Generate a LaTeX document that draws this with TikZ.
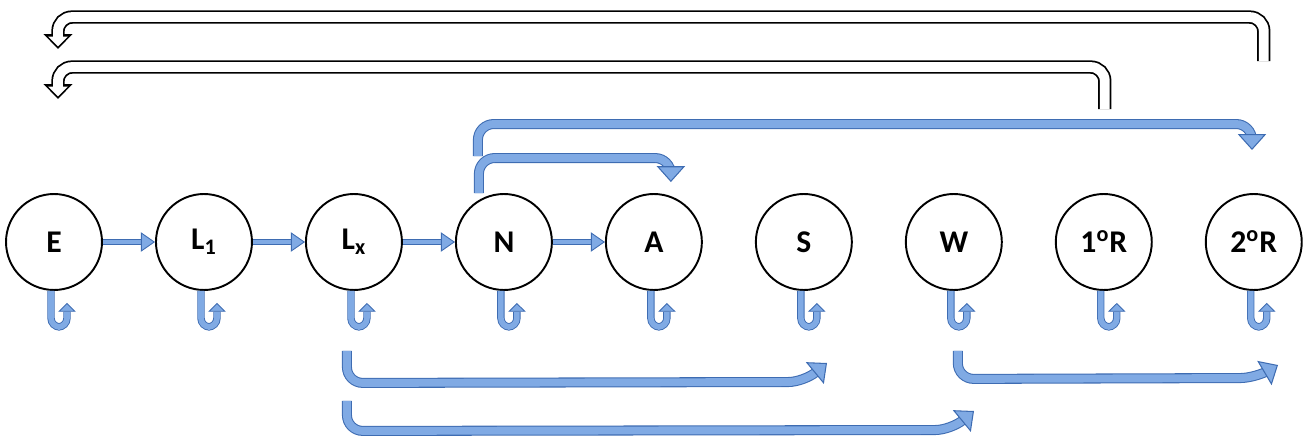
\documentclass[tikz,border=0pt]{standalone}
\usepackage{fontspec}
\setmainfont{Carlito}
\usetikzlibrary{arrows.meta}

\definecolor{bluefill}{RGB}{128,170,228}
\definecolor{blueedge}{RGB}{62,108,178}

\begin{document}
\begin{tikzpicture}[x=0.02cm, y=-0.02cm, node distance=3cm,
    stage/.style={circle, draw, line width=1.1pt, minimum size=1.92cm, inner sep=0pt,
                  font=\fontsize{18}{20}\selectfont\bfseries},
    move/.style={draw=blueedge, double=bluefill, line width=0.5pt, double distance=2.6pt,
                 -{Triangle[length=8pt, width=11pt, fill=bluefill]}},
    stay/.style={draw=blueedge, double=bluefill, line width=0.5pt, double distance=3.2pt,
                 rounded corners=5pt, -{Triangle[length=5pt, width=10pt, fill=bluefill]}},
    flow/.style={draw=blueedge, double=bluefill, line width=0.6pt, double distance=4.5pt,
                 rounded corners=9pt, -{Triangle[length=9pt, width=16pt, fill=bluefill]}},
    backflow/.style={draw=white, line width=5.6pt, rounded corners=8pt,
                     -{Triangle[length=5.6pt, width=11pt]}, shorten >=1.5pt,
                     preaction={draw=black, line width=7.6pt, shorten >=0pt,
                                -{Triangle[length=8.5pt, width=16pt]}}}]

    \useasboundingbox (0,0) rectangle (1309,442);

    \node [stage] (E) at (54,242) {E};
    \node [stage] (L1) [right of=E] {L\textsubscript{1}};
    \node [stage] (Lx) [right of=L1] {L\textsubscript{x}};
    \node [stage] (N) [right of=Lx] {N};
    \node [stage] (A) [right of=N] {A};
    \node [stage] (S) [right of=A] {S};
    \node [stage] (W) [right of=S] {W};
    \node [stage] (R1) [right of=W] {1\textsuperscript{o}R};
    \node [stage] (R2) [right of=R1] {2\textsuperscript{o}R};

    \draw [move] (E) -- (L1);
    \draw [move] (L1) -- (Lx);
    \draw [move] (Lx) -- (N);
    \draw [move] (N) -- (A);

    % staying in the same stage
    \foreach \n in {E,L1,Lx,N,A,S,W,R1,R2}
        \draw [stay] ([xshift=-0.06cm]\n.south) -- ++(0,36) -- ++(16,0) -- ++(0,-24);

    % back to eggs
    \coordinate (eggs1) at (58,49);
    \coordinate (eggs2) at (58,99);
    \draw [backflow] ([xshift=0.2cm, yshift=2.64cm]R2.north) -- ++(0,-44) -| (eggs1);
    \draw [backflow] ([xshift=0.02cm, yshift=1.68cm]R1.north) -- ++(0,-42) -| (eggs2);

    % above the stages
    \coordinate (toR2) at (1252,150);
    \draw [flow] ([xshift=-0.52cm, yshift=0.74cm]N.north) -- ++(0,-32) -| (toR2);
    \draw [flow] ([xshift=-0.5cm]N.north) -- ++(0,-35) -| ([xshift=0.34cm, yshift=0.22cm]A.north);

    % below the stages
    \coordinate (toS) at (827,363);
    \coordinate (toW) at (974,411);
    \coordinate (toR2b) at (1278,365);
    \draw [flow] ([xshift=-0.14cm, yshift=-1.2cm]Lx.south) -- ++(0,32) -- (804,382) -- (toS);
    \draw [flow] ([xshift=-0.14cm, yshift=-2.2cm]Lx.south) -- ++(0,30) -- (951,430) -- (toW);
    \draw [flow] ([xshift=0.08cm, yshift=-1.2cm]W.south) -- ++(0,28) -- (1256,378) -- (toR2b);

\end{tikzpicture}
\end{document}
